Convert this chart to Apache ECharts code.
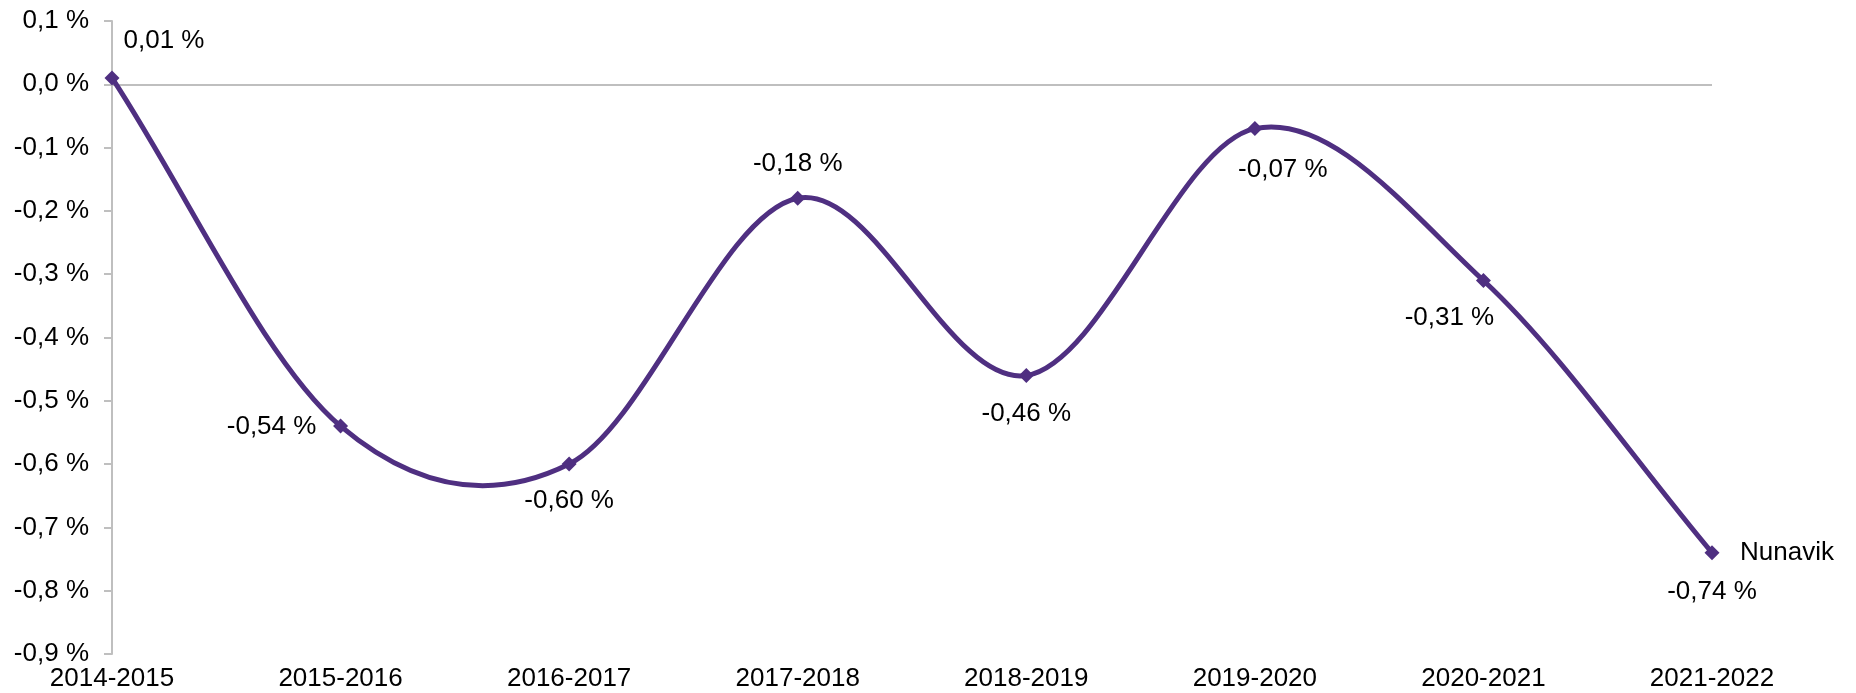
<!DOCTYPE html>
<html>
<head>
<meta charset="utf-8">
<script src="https://cdn.jsdelivr.net/npm/echarts@6/dist/echarts.min.js"></script>
<style>
  html, body { margin: 0; padding: 0; background: #fff; }
  #chart { width: 1856px; height: 693px; }
</style>
</head>
<body>
<div id="chart"></div>
<script>
// Annual change, Nunavik
const categories = ['2014-2015', '2015-2016', '2016-2017', '2017-2018', '2018-2019', '2019-2020', '2020-2021', '2021-2022'];
const values = [0.01, -0.54, -0.60, -0.18, -0.46, -0.07, -0.31, -0.74];
const seriesName = 'Nunavik';
// label placement around each point: [dx, dy] from the marker centre
const labelOffsets = [[52, -37], [-69, 1], [0, 37], [0, -34], [0, 38], [28, 41], [-34, 37], [0, 39]];

const fmtPct = (v, digits) => {
  if (Math.abs(v) < 1e-9) v = 0;
  return v.toFixed(digits).replace('.', ',') + ' %';
};

const FONT = 'Liberation Sans, Arial, sans-serif';
const FS = 26;
const LINE = '#4F2F81';

// Cardinal (Catmull-Rom style) smoothing: each segment i -> i+1 is a cubic
// Bezier whose handles follow the neighbouring points, so the curve may
// swing past the data between markers. Beyond the ends a mirrored point
// is used, which keeps the first and last segments nearly straight.
function renderSegment(params, api) {
  const i = params.dataIndex;
  const n = values.length;
  if (i >= n - 1) return null;
  const at = k => api.coord([k, values[k]]);
  const pt = k => {
    if (k < 0) { const a = at(0), b = at(1); return [2 * a[0] - b[0], 2 * a[1] - b[1]]; }
    if (k > n - 1) { const a = at(n - 1), b = at(n - 2); return [2 * a[0] - b[0], 2 * a[1] - b[1]]; }
    return at(k);
  };
  const p0 = pt(i - 1), p1 = pt(i), p2 = pt(i + 1), p3 = pt(i + 2);
  const t = 1 / 6;
  return {
    type: 'bezierCurve',
    shape: {
      x1: p1[0], y1: p1[1],
      x2: p2[0], y2: p2[1],
      cpx1: p1[0] + (p2[0] - p0[0]) * t, cpy1: p1[1] + (p2[1] - p0[1]) * t,
      cpx2: p2[0] - (p3[0] - p1[0]) * t, cpy2: p2[1] - (p3[1] - p1[1]) * t
    },
    style: { stroke: LINE, lineWidth: 5, fill: null, lineCap: 'round', lineJoin: 'round' }
  };
}

const chart = echarts.init(document.getElementById('chart'));
chart.setOption({
  animation: false,
  grid: { left: 112, right: 144, top: 21, bottom: 39, containLabel: false },
  xAxis: {
    type: 'category',
    data: categories,
    boundaryGap: false,
    axisLine: { show: false },
    axisTick: { show: false },
    axisLabel: { color: '#000', fontFamily: FONT, fontSize: FS, margin: 12 }
  },
  yAxis: {
    type: 'value',
    min: -0.9,
    max: 0.1,
    interval: 0.1,
    splitLine: { show: false },
    axisLine: { show: true, lineStyle: { color: '#BFBFBF', width: 2 } },
    axisTick: { show: true, length: 8, lineStyle: { color: '#BFBFBF', width: 2 } },
    axisLabel: {
      color: '#000', fontFamily: FONT, fontSize: FS, margin: 23,
      formatter: v => fmtPct(v, 1)
    }
  },
  series: [{
    type: 'custom',
    name: seriesName + ' curve',
    data: values.map((v, i) => [i, v]),
    renderItem: renderSegment,
    silent: true,
    z: 2
  }, {
    name: seriesName,
    type: 'line',
    data: values.map((v, i) => ({
      value: v,
      label: { offset: labelOffsets[i] }
    })),
    symbol: 'diamond',
    symbolSize: 15,
    lineStyle: { width: 0, opacity: 0 },
    itemStyle: { color: LINE },
    label: {
      show: true,
      position: 'inside',
      color: '#000',
      fontFamily: FONT,
      fontSize: FS,
      formatter: p => fmtPct(p.value, 2)
    },
    endLabel: {
      show: true,
      formatter: '{a}',
      color: '#000',
      fontFamily: FONT,
      fontSize: FS,
      distance: 28
    },
    markLine: {
      silent: true,
      symbol: 'none',
      label: { show: false },
      lineStyle: { color: '#BFBFBF', width: 2, type: 'solid' },
      data: [{ yAxis: 0 }],
      z: 1
    },
    z: 3
  }]
});
</script>
</body>
</html>
